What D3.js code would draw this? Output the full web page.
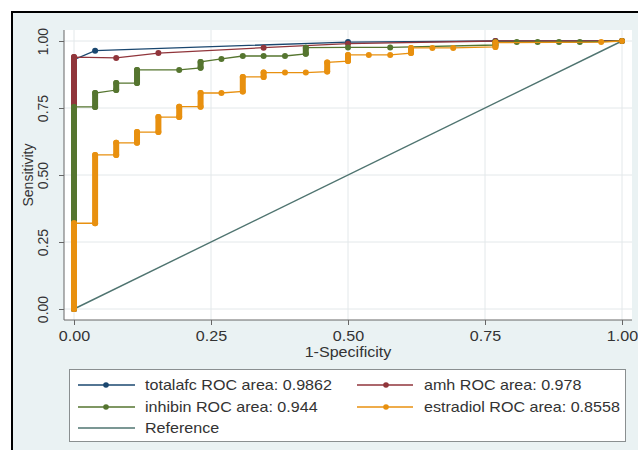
<!DOCTYPE html>
<html><head><meta charset="utf-8">
<script src="https://cdn.jsdelivr.net/npm/d3@7"></script>
<style>html,body{margin:0;padding:0;background:#fff;}svg{display:block;}</style>
</head><body>
<svg id="chart" width="638" height="450"></svg>
<script>
// ---- data ----
const xTicks = [0, 0.25, 0.5, 0.75, 1];
const yTicks = [0, 0.25, 0.5, 0.75, 1];
const seriesNames = ["totalafc", "amh", "inhibin", "estradiol"];
const rocAreas = ["0.9862", "0.978", "0.944", "0.8558"];
const totalafc = [[0,0],[0,0.93],[0.0385,0.964],[0.5,0.996],[0.769,1],[1,1]];
const amh = [[0,0],[0,0.94],[0.077,0.937],[0.154,0.955],[0.346,0.975],[0.5,0.99],[0.769,1],[1,1]];
const inhibin = [[0,0],[0,0.754],[0.0385,0.754],[0.0385,0.806],[0.077,0.817],[0.077,0.843],[0.115,0.843],[0.115,0.892],[0.192,0.892],[0.231,0.90],[0.231,0.922],[0.269,0.933],[0.308,0.944],[0.346,0.944],[0.385,0.944],[0.423,0.952],[0.423,0.975],[0.5,0.976],[0.577,0.976],[0.769,0.985],[0.769,0.996],[0.808,0.996],[0.846,0.996],[0.885,0.996],[0.923,0.996],[1,1]];
const estradiol = [[0,0],[0,0.32],[0.0385,0.32],[0.0385,0.575],[0.077,0.575],[0.077,0.62],[0.115,0.62],[0.115,0.66],[0.154,0.66],[0.154,0.716],[0.192,0.716],[0.192,0.755],[0.231,0.755],[0.231,0.806],[0.269,0.806],[0.308,0.812],[0.308,0.866],[0.346,0.866],[0.346,0.882],[0.385,0.882],[0.423,0.882],[0.462,0.886],[0.462,0.92],[0.5,0.925],[0.5,0.948],[0.538,0.948],[0.577,0.948],[0.615,0.955],[0.615,0.974],[0.654,0.974],[0.692,0.974],[0.769,0.978],[0.769,0.994],[0.962,0.996],[1,1]];
const referenceLine = [[0,0],[1,1]];
const colors = ["#1a476f", "#90353b", "#55752f", "#e8900f"];
const refColor = "#4f7470";

const svg = d3.select("#chart");
const font = "'Liberation Sans', Arial, sans-serif";
const SX = 1.15; // horizontal stretch of the reference's text

// background + outer frame
svg.append("rect").attr("x",12).attr("y",12).attr("width",640).attr("height",450)
  .attr("fill","#eaf2f3").attr("stroke","#000").attr("stroke-width",2);

// plot region
const pr = {x0:64, x1:632, y0:30, y1:320};
svg.append("rect").attr("x",pr.x0).attr("y",pr.y0).attr("width",pr.x1-pr.x0).attr("height",pr.y1-pr.y0).attr("fill","#fff");

const x = d3.scaleLinear().domain([0,1]).range([74,622]);
const y = d3.scaleLinear().domain([0,1]).range([309,41]);

// gridlines
svg.append("g").selectAll("line.gy").data(yTicks).join("line")
  .attr("x1",pr.x0).attr("x2",pr.x1).attr("y1",d=>y(d)).attr("y2",d=>y(d))
  .attr("stroke","#e3e8ea").attr("stroke-width",1);
svg.append("g").selectAll("line.gx").data(xTicks).join("line")
  .attr("y1",pr.y0).attr("y2",pr.y1).attr("x1",d=>x(d)).attr("x2",d=>x(d))
  .attr("stroke","#e3e8ea").attr("stroke-width",1);

// axes
const xAxis = svg.append("g").attr("transform",`translate(0,${pr.y1})`)
  .call(d3.axisBottom(x).tickValues(xTicks).tickFormat(d3.format(".2f")).tickSize(5).tickPadding(6).tickSizeOuter(0));
xAxis.select(".domain").remove();
xAxis.selectAll("line").attr("stroke","#666");
xAxis.selectAll("text").attr("font-family",font).attr("font-size",14).attr("fill","#333")
  .attr("transform",`scale(${SX},1)`);

const yAxis = svg.append("g").attr("transform",`translate(${pr.x0},0)`)
  .call(d3.axisLeft(y).tickValues(yTicks).tickFormat(d3.format(".2f")).tickSize(5).tickSizeOuter(0));
yAxis.select(".domain").remove();
yAxis.selectAll("line").attr("stroke","#666");
yAxis.selectAll("text").attr("font-family",font).attr("font-size",14).attr("fill","#333")
  .attr("transform","rotate(-90)").attr("x",0).attr("y",-16).attr("dy",0).attr("text-anchor","middle");

svg.append("line").attr("x1",pr.x0).attr("x2",pr.x0).attr("y1",pr.y0).attr("y2",pr.y1).attr("stroke","#666");
svg.append("line").attr("x1",pr.x0).attr("x2",pr.x1).attr("y1",pr.y1).attr("y2",pr.y1).attr("stroke","#666");

// axis titles
svg.append("text").attr("transform","translate(33,175) rotate(-90)").attr("text-anchor","middle")
  .attr("font-family",font).attr("font-size",14).attr("fill","#333").text("Sensitivity");
svg.append("text").attr("transform",`translate(348,357) scale(${SX},1)`).attr("text-anchor","middle")
  .attr("font-family",font).attr("font-size",14).attr("fill","#333").text("1-Specificity");

// reference line
const line = d3.line().x(d=>x(d[0])).y(d=>y(d[1]));
svg.append("path").attr("d",line(referenceLine)).attr("fill","none").attr("stroke",refColor).attr("stroke-width",1.4);

// ROC curves
const allSeries = [totalafc, amh, inhibin, estradiol];
allSeries.forEach((pts,i)=>{
  const g = svg.append("g");
  g.append("path").attr("d",line(pts)).attr("fill","none").attr("stroke",colors[i]).attr("stroke-width",1.3);
  const runs = [];
  for (let k=1;k<pts.length;k++) if (pts[k][0]===pts[k-1][0] && pts[k][1]!==pts[k-1][1]) runs.push([pts[k-1],pts[k]]);
  g.selectAll("line.run").data(runs).join("line")
    .attr("x1",d=>x(d[0][0])).attr("x2",d=>x(d[1][0])).attr("y1",d=>y(d[0][1])).attr("y2",d=>y(d[1][1]))
    .attr("stroke",colors[i]).attr("stroke-width",6).attr("stroke-linecap","round");
  g.selectAll("circle").data(pts).join("circle")
    .attr("cx",d=>x(d[0])).attr("cy",d=>y(d[1])).attr("r",3).attr("fill",colors[i]);
});

// legend
const lg = svg.append("g");
lg.append("rect").attr("x",69.5).attr("y",369.5).attr("width",556).attr("height",72)
  .attr("fill","#fff").attr("stroke","#8a8f90").attr("stroke-width",1);
const legendItems = seriesNames.map((n,i)=>({label:`${n} ROC area: ${rocAreas[i]}`, color:colors[i], marker:true, col:i%2, row:Math.floor(i/2)}));
legendItems.push({label:"Reference", color:refColor, marker:false, col:0, row:2});
const colX = [[78,135,106,145],[357,413,386,424]];
const rowY = [385,407,428];
legendItems.forEach(it=>{
  const [a,b,m,t] = colX[it.col]; const yy = rowY[it.row];
  lg.append("line").attr("x1",a).attr("x2",b).attr("y1",yy).attr("y2",yy).attr("stroke",it.color).attr("stroke-width",1.3);
  if (it.marker) lg.append("circle").attr("cx",m).attr("cy",yy).attr("r",2.8).attr("fill",it.color);
  lg.append("text").attr("transform",`translate(${t},${yy+5}) scale(${SX},1)`)
    .attr("font-family",font).attr("font-size",14).attr("fill","#333").text(it.label);
});
</script>
</body></html>
